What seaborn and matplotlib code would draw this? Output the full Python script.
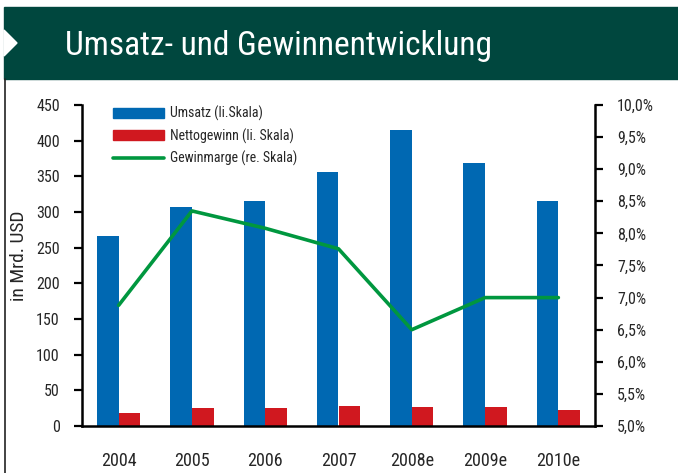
import numpy as np
import pandas as pd
import matplotlib
matplotlib.use("Agg")
import matplotlib.pyplot as plt
from matplotlib import font_manager
from matplotlib.patches import Rectangle, Polygon, Patch
from matplotlib.lines import Line2D
import seaborn as sns

# data
jahre = ["2004", "2005", "2006", "2007", "2008e", "2009e", "2010e"]
umsatz = [266, 307, 315, 356, 415, 368, 316]          # Mrd. USD
nettogewinn = [18, 25, 25, 28, 27, 27, 22]            # Mrd. USD
gewinnmarge = [6.88, 8.35, 8.08, 7.76, 6.50, 7.00, 7.00]  # %
links_ticks = [0, 50, 100, 150, 200, 250, 300, 350, 400, 450]
rechts_ticks = [5.0, 5.5, 6.0, 6.5, 7.0, 7.5, 8.0, 8.5, 9.0, 9.5, 10.0]
serien = ["Umsatz (li.Skala)", "Nettogewinn (li. Skala)", "Gewinmarge (re. Skala)"]

BLAU = "#0068b2"
ROT = "#d0181f"
GRUEN = "#00973f"
KOPF = "#00473e"

sns.set_theme(style="white")

# pick a narrow sans if one is installed
installed = {f.name for f in font_manager.fontManager.ttflist}
narrow = None
for cand in ["Liberation Sans Narrow", "Roboto Condensed", "Open Sans Condensed",
             "Noto Sans Display", "DejaVu Sans"]:
    if cand in installed:
        narrow = cand
        break
plt.rcParams["font.family"] = [narrow, "DejaVu Sans"]
plt.rcParams["font.stretch"] = "condensed"

df = pd.DataFrame({
    "Jahr": jahre * 2,
    "Serie": [serien[0]] * len(jahre) + [serien[1]] * len(jahre),
    "Wert": umsatz + nettogewinn,
})

fig = plt.figure(figsize=(6.78, 4.73), dpi=100)
ax = fig.add_axes([82 / 678, 47 / 473, 513 / 678, 321 / 473])

sns.barplot(data=df, x="Jahr", y="Wert", hue="Serie", ax=ax,
            palette={serien[0]: BLAU, serien[1]: ROT}, saturation=1,
            width=0.59, linewidth=0, legend=False)

ax2 = ax.twinx()
sns.lineplot(x=np.arange(len(jahre)), y=gewinnmarge, ax=ax2,
             color=GRUEN, linewidth=2.6)

ax.set_xlim(-0.5, len(jahre) - 0.5)
ax.set_ylim(0, 450)
ax2.set_ylim(5.0, 10.0)

# left axis
ax.set_yticks(links_ticks)
ax.set_yticklabels([str(v) for v in links_ticks], fontsize=11.5)
ax.set_ylabel("in Mrd. USD", fontsize=14)
ax.yaxis.set_label_coords(-0.105, 0.53)
ax.set_xlabel("")

# x axis: labels at centres, tick marks between categories
ax.set_xticks(np.arange(len(jahre)))
ax.set_xticklabels(jahre, fontsize=13)
ax.set_xticks(np.arange(len(jahre) + 1) - 0.5, minor=True)
ax.tick_params(axis="x", which="major", length=0, pad=19)
ax.tick_params(axis="x", which="minor", length=6, width=1.6, direction="out", color="black")
ax.tick_params(axis="y", length=6, width=1.6, direction="out", color="black", pad=10)

# right axis
ax2.set_yticks(rechts_ticks)
ax2.set_yticklabels([f"{v:.1f}%".replace(".", ",") for v in rechts_ticks], fontsize=11.5)
ax2.tick_params(axis="y", length=6, width=1.6, direction="out", color="black", pad=10)
ax2.set_ylabel("")

for a in (ax, ax2):
    a.grid(False)
    a.spines["top"].set_visible(False)
    for s in ("left", "right", "bottom"):
        a.spines[s].set_linewidth(1.8)
        a.spines[s].set_color("black")
ax.spines["right"].set_visible(False)
ax2.spines["left"].set_visible(False)
ax2.spines["bottom"].set_visible(False)

handles = [Patch(color=BLAU), Patch(color=ROT), Line2D([], [], color=GRUEN, linewidth=2.6)]
ax2.legend(handles, serien, loc="upper left", bbox_to_anchor=(0.06, 0.997),
           frameon=False, fontsize=10, handlelength=3.7, handleheight=0.7,
           handletextpad=0.4, labelspacing=0.5, borderpad=0, borderaxespad=0)

# header band with chevron and left frame line
fig.patches.append(Rectangle((4 / 678, (473 - 79) / 473), 1, 72 / 473,
                             transform=fig.transFigure, color=KOPF, zorder=0))
fig.patches.append(Polygon([(4 / 678, (473 - 30) / 473), (17 / 678, (473 - 43) / 473),
                            (4 / 678, (473 - 56) / 473)],
                           transform=fig.transFigure, color="white", zorder=1))
fig.lines.append(Line2D([4.5 / 678, 4.5 / 678], [0, (473 - 79) / 473],
                        transform=fig.transFigure, color="#222222", linewidth=1.2))
fig.text(65 / 678, (473 - 55) / 473, "Umsatz- und Gewinnentwicklung",
         color="white", fontsize=24, va="baseline", ha="left")

fig.savefig("out.png", dpi=100)
